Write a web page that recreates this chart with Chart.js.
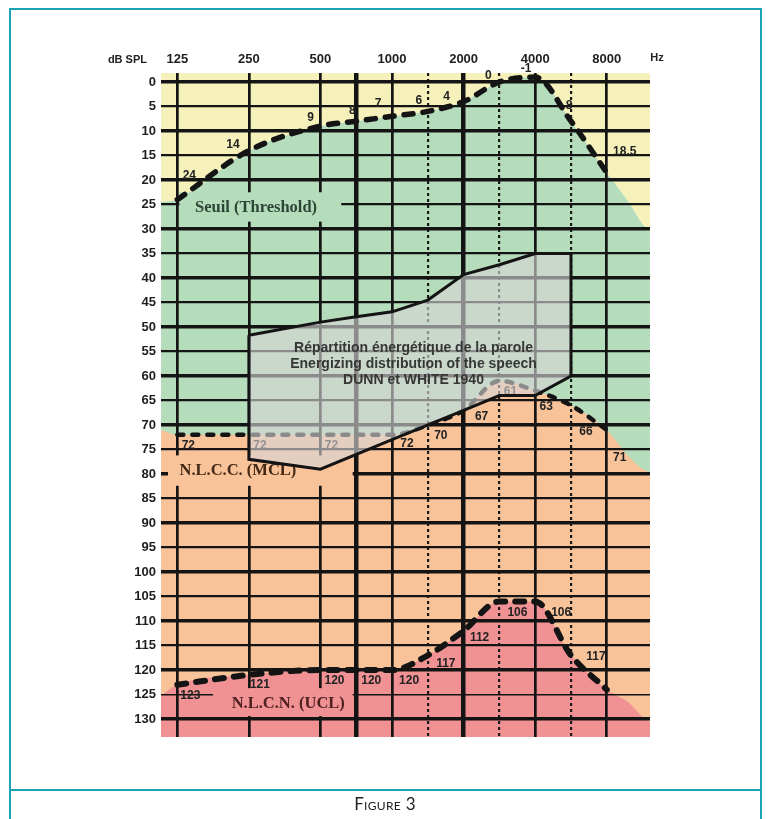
<!DOCTYPE html>
<html>
<head>
<meta charset="utf-8">
<title>Figure 3</title>
<script src="https://cdn.jsdelivr.net/npm/chart.js@4/dist/chart.umd.min.js"></script>
<style>
  html, body { margin: 0; padding: 0; background: #fff; }
  #page { position: relative; width: 770px; height: 819px; overflow: hidden; }
  #chart { position: absolute; left: 0; top: 0; }
  .frame { position: absolute; left: 9px; top: 8px; width: 753px; height: 840px;
           border: 2px solid #19a4b4; box-sizing: border-box; }
  .rule { position: absolute; left: 9px; top: 789px; width: 753px; height: 2px; background: #19a4b4; }
  .caption { position: absolute; left: 0; top: 793px; width: 770px; text-align: center;
             font: 17px Lato, "Open Sans", sans-serif; font-variant: small-caps; color: #222;
             letter-spacing: 0.3px; }
</style>
</head>
<body>
<div id="page">
  <canvas id="chart" width="770" height="790"></canvas>
  <div class="frame"></div>
  <div class="rule"></div>
  <div class="caption">Figure 3</div>
</div>
<script>
// Audiometric test frequencies (Hz)
const freqs = [125, 250, 500, 750, 1000, 1500, 2000, 3000, 4000, 6000, 8000];
// Hearing threshold, most comfortable level and uncomfortable level (dB SPL)
const threshold = [24, 14, 9, 8, 7, 6, 4, 0, -1, 8, 18.5];
const mcl = [72, 72, 72, 72, 72, 70, 67, 61, 63, 66, 71];
const ucl = [123, 121, 120, 120, 120, 117, 112, 106, 106, 117, 124];

// Speech energy area (Dunn & White 1940), traced as a closed outline
const speechFreqs = [250, 500, 750, 1000, 1500, 2000, 3000, 4000, 6000, 6000, 4000, 3000, 2000, 1000, 500, 250, 250];
const speechDb = [51.7, 49, 47.9, 46.9, 44.5, 39.3, 37.3, 35, 35, 60, 64, 64, 67, 73, 79, 77, 51.7];
const speechCaption = ['Répartition énergétique de la parole', 'Energizing distribution of the speech', 'DUNN et WHITE 1940'];

// Axis ticks
const dbTicks = [0, 5, 10, 15, 20, 25, 30, 35, 40, 45, 50, 55, 60, 65, 70, 75, 80, 85, 90, 95, 100, 105, 110, 115, 120, 125, 130];
const freqTickLabels = ['125', '250', '500', '1000', '2000', '4000', '8000'];
const solidGridFreqs = [125, 250, 500, 750, 1000, 2000, 4000, 8000];
const heavyGridFreqs = [750, 2000];
const dottedGridFreqs = [1500, 3000, 6000];

// Axis extents: octaves above 125 Hz across, dB SPL downwards
const X_MIN = -0.228, X_MAX = 6.604;
const Y_MIN = -1.84, Y_MAX = 133.67;

// Frequencies sit on octave lines; 750/1500/3000/6000 sit half-way between them
const octave = f => Math.round(Math.log2(f / 125) * 2) / 2;

// Colour zones: each outline follows its curve, from the left edge to the roll-off past 8 kHz
const zoneOctaves = [X_MIN, ...freqs.map(octave), 6.3, 6.5, X_MAX];
const thresholdZone = [24.5, ...threshold, 24.4, 29, 30.5];
const mclZone = [71, ...mcl, 76.3, 79, 79.7];
const uclZone = [125.2, ...ucl, 126.6, 129.6, 130.6];

const YELLOW = '#f6f0bb', GREEN = '#b5dcbb', ORANGE = '#f9c39a', PINK = '#f09193';
const INK = '#141414';
const NUM_FONT = '"Liberation Sans", Arial, sans-serif';
const SERIF_FONT = 'bold 16.5px "Liberation Serif", "Times New Roman", serif';

// Value label placement next to each point (px), null = no label
const thresholdOffsets = [[12, -24], [-16, -6], [-10, -8], [-4, -11], [-14, -13], [-9, -11], [-17, -5], [-11, -6], [-9, -8], [-2, -16], [18, -21]];
const mclOffsets = [[11, 11], [11, 11], [11, 11], null, [15, 9], [13, 11], [18, 6], [11, 11], [11, 16], [15, 26], [13, 28]];
const uclOffsets = [[13, 11], [11, 10], [14, 11], [15, 11], [17, 11], [18, 8], [16, 7], [18, 11], [26, 11], [25, 1], null];

// Zone names with their backing boxes, in chart units [x0, x1, y0, y1]
const zoneLabels = [
  { text: 'Seuil (Threshold)', box: [0.03, 2.29, 22.5, 28.5], at: [1.1, 25.6], align: 'center', fill: GREEN, color: '#2c4636' },
  { text: 'N.L.C.C. (MCL)', box: [-0.13, 2.45, 76.2, 82.4], at: [0.03, 79.3], align: 'left', fill: ORANGE, color: '#432814' },
  { text: 'N.L.C.N. (UCL)', box: [0.5, 2.45, 123.7, 129.4], at: [1.55, 126.9], align: 'center', fill: PINK, color: '#4e2020' }
];

const points = (xs, ys) => xs.map((x, i) => ({ x, y: ys[i] }));

const zone = (values, color, fill, order) => ({
  data: points(zoneOctaves, values),
  backgroundColor: color, borderColor: 'transparent', borderWidth: 0,
  pointRadius: 0, cubicInterpolationMode: 'monotone', fill, order
});

const curve = (label, values, width, dash, order, offsets) => ({
  label, data: points(freqs.map(octave), values),
  borderColor: INK, borderWidth: width, borderDash: dash, borderCapStyle: 'round',
  cubicInterpolationMode: 'monotone', pointRadius: 0, fill: false, order,
  valueOffsets: offsets
});

const overlay = {
  id: 'overlay',
  beforeDatasetsDraw(chart) {
    const { ctx, scales: { x, y } } = chart;
    zoneLabels.forEach(z => {
      const x0 = x.getPixelForValue(z.box[0]), x1 = x.getPixelForValue(z.box[1]);
      const y0 = y.getPixelForValue(z.box[2]), y1 = y.getPixelForValue(z.box[3]);
      ctx.save();
      ctx.fillStyle = z.fill;
      ctx.fillRect(x0, y0, x1 - x0, y1 - y0);
      ctx.font = SERIF_FONT;
      ctx.fillStyle = z.color;
      ctx.textAlign = z.align;
      ctx.textBaseline = 'middle';
      ctx.fillText(z.text, x.getPixelForValue(z.at[0]), y.getPixelForValue(z.at[1]));
      ctx.restore();
    });
  },
  beforeDatasetDraw(chart, args) {
    const ds = chart.data.datasets[args.index];
    if (!ds.areaFill) return;
    const { ctx, scales: { x, y } } = chart;
    ctx.save();
    ctx.beginPath();
    args.meta.dataset.path(ctx);
    ctx.closePath();
    ctx.fillStyle = ds.areaFill;
    ctx.fill();
    ctx.font = 'bold 14px ' + NUM_FONT;
    ctx.fillStyle = '#363636';
    ctx.textAlign = 'center';
    ctx.textBaseline = 'middle';
    const cx = x.getPixelForValue(ds.captionAt[0]);
    const cy = y.getPixelForValue(ds.captionAt[1]);
    ds.caption.forEach((line, i) => ctx.fillText(line, cx, cy + (i - 1) * 16));
    ctx.restore();
  },
  afterDatasetDraw(chart, args) {
    const ds = chart.data.datasets[args.index];
    if (!ds.valueOffsets) return;
    const ctx = chart.ctx;
    ctx.save();
    ctx.font = 'bold 12px ' + NUM_FONT;
    ctx.fillStyle = '#222';
    ctx.textAlign = 'center';
    ctx.textBaseline = 'middle';
    args.meta.data.forEach((pt, i) => {
      const off = ds.valueOffsets[i];
      if (!off) return;
      ctx.fillText(String(ds.data[i].y), pt.x + off[0], pt.y + off[1]);
    });
    ctx.restore();
  },
  afterDraw(chart) {
    const { ctx, chartArea, scales: { x } } = chart;
    ctx.save();
    ctx.font = 'bold 11px ' + NUM_FONT;
    ctx.fillStyle = '#222';
    ctx.textBaseline = 'middle';
    const ty = x.bottom - 14;
    ctx.textAlign = 'right';
    ctx.fillText('dB SPL', chartArea.left - 14, ty + 1);
    ctx.textAlign = 'center';
    ctx.fillText('Hz', chartArea.right + 7, ty - 1);
    ctx.restore();
  }
};

new Chart(document.getElementById('chart'), {
  type: 'line',
  data: {
    datasets: [
      zone(thresholdZone, YELLOW, { value: Y_MIN }, 14),
      zone(thresholdZone, GREEN, { value: Y_MAX }, 13),
      zone(mclZone, ORANGE, { value: Y_MAX }, 12),
      zone(uclZone, PINK, { value: Y_MAX }, 11),
      curve('Seuil (Threshold)', threshold, 5.5, [9, 10], 2, thresholdOffsets),
      curve('N.L.C.C. (MCL)', mcl, 4.5, [6, 9], 6, mclOffsets),
      curve('N.L.C.N. (UCL)', ucl, 6, [9, 10], 2, uclOffsets),
      {
        label: 'Dunn & White 1940',
        data: points(speechFreqs.map(octave), speechDb),
        borderColor: INK, borderWidth: 3, borderJoinStyle: 'miter',
        pointRadius: 0, fill: false, order: 5,
        areaFill: 'rgba(214,213,214,0.62)', caption: speechCaption, captionAt: [3.3, 57.6]
      }
    ]
  },
  options: {
    responsive: false,
    animation: false,
    devicePixelRatio: 1,
    events: [],
    layout: { padding: { left: 100, top: 40, right: 120, bottom: 53 } },
    plugins: {
      legend: { display: false },
      tooltip: { enabled: false },
      filler: { drawTime: 'beforeDraw', propagate: false }
    },
    scales: {
      x: {
        type: 'linear', position: 'top', min: X_MIN, max: X_MAX,
        afterFit: s => { s.height = 33; },
        afterBuildTicks: s => { s.ticks = solidGridFreqs.map(f => ({ value: octave(f) })); },
        ticks: {
          autoSkip: false, maxRotation: 0, padding: 6, color: '#1e1e1e',
          font: { family: NUM_FONT, size: 13, weight: 'bold' },
          callback: v => Number.isInteger(v) ? freqTickLabels[v] : ''
        },
        grid: {
          drawTicks: false, color: INK,
          lineWidth: c => heavyGridFreqs.map(octave).includes(c.tick && c.tick.value) ? 4.5 : 2.7
        },
        border: { display: false }
      },
      xHalf: {
        type: 'linear', position: 'top', min: X_MIN, max: X_MAX,
        afterFit: s => { s.height = 0; },
        afterBuildTicks: s => { s.ticks = dottedGridFreqs.map(f => ({ value: octave(f) })); },
        ticks: { display: false },
        grid: { drawTicks: false, color: '#1a1a1a', lineWidth: 2.2 },
        border: { display: false, dash: [3, 3] }
      },
      y: {
        type: 'linear', reverse: true, min: Y_MIN, max: Y_MAX,
        afterFit: s => { s.width = 61; },
        afterBuildTicks: s => { s.ticks = dbTicks.map(v => ({ value: v })); },
        ticks: {
          autoSkip: false, padding: 5, color: '#1e1e1e',
          font: { family: NUM_FONT, size: 13, weight: 'bold' },
          callback: v => String(v)
        },
        grid: {
          drawTicks: false, color: INK,
          lineWidth: c => {
            const v = c.tick && c.tick.value;
            return v === 125 ? 1.4 : (v % 10 === 0 ? 3.5 : 2.3);
          }
        },
        border: { display: false }
      }
    }
  },
  plugins: [overlay]
});
</script>
</body>
</html>
